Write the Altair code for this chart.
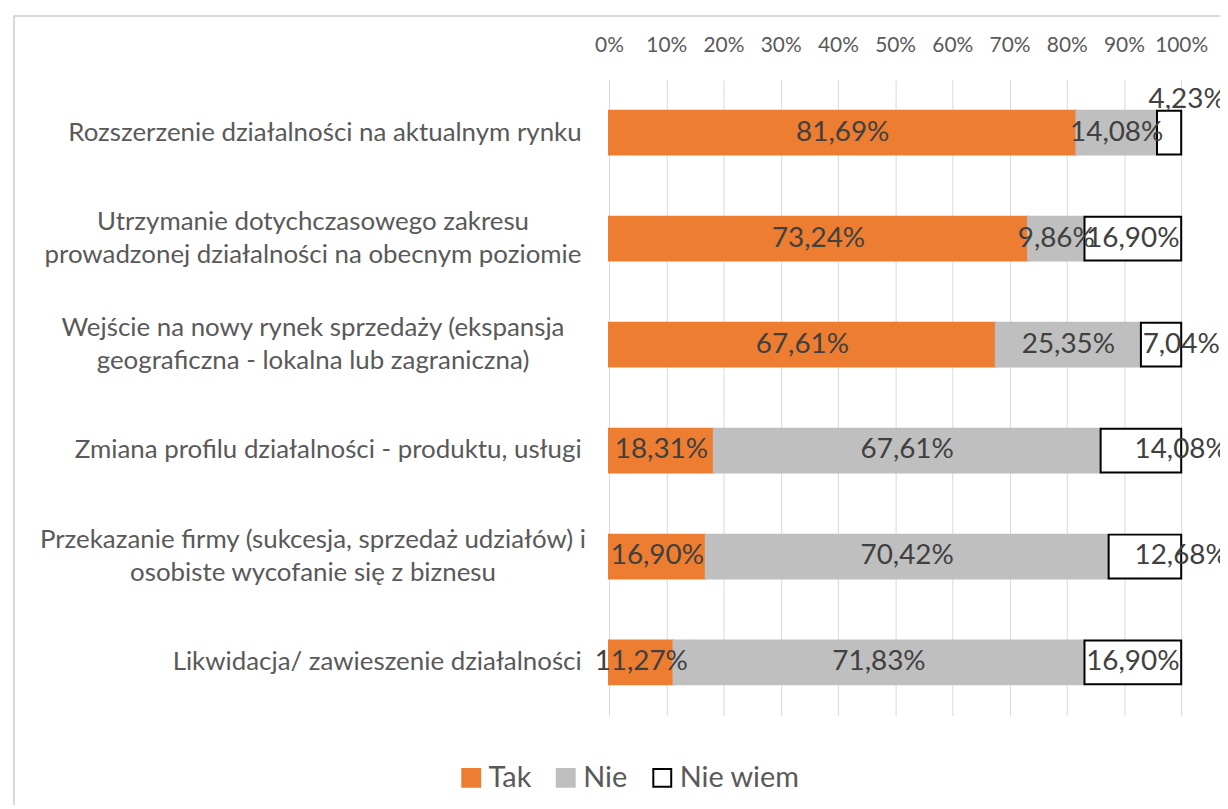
import altair as alt
import pandas as pd

categories = [
    "Rozszerzenie działalności na aktualnym rynku",
    "Utrzymanie dotychczasowego zakresu\nprowadzonej działalności na obecnym poziomie",
    "Wejście na nowy rynek  sprzedaży (ekspansja\ngeograficzna - lokalna lub zagraniczna)",
    "Zmiana profilu działalności -  produktu, usługi",
    "Przekazanie firmy (sukcesja, sprzedaż udziałów) i\nosobiste wycofanie się z biznesu",
    "Likwidacja/ zawieszenie działalności",
]
answers = ["Tak", "Nie", "Nie wiem"]
tak = [81.69, 73.24, 67.61, 18.31, 16.90, 11.27]
nie = [14.08, 9.86, 25.35, 67.61, 70.42, 71.83]
nie_wiem = [4.23, 16.90, 7.04, 14.08, 12.68, 16.90]
x_ticks = [0, 10, 20, 30, 40, 50, 60, 70, 80, 90, 100]

rows = []
for i, c in enumerate(categories):
    for j, (a, vals) in enumerate(zip(answers, [tak, nie, nie_wiem])):
        rows.append({"category": c, "answer": a, "order": j, "value": vals[i]})
df = pd.DataFrame(rows)

FONT = "Lato"
colors = ["#ED7D31", "#BFBFBF", "#FFFFFF"]
strokes = ["#ED7D31", "#BFBFBF", "#000000"]
MULTI = "indexof(datum.label, '\\n') >= 0"

base = alt.Chart(df).transform_stack(
    stack="value", groupby=["category"], as_=["x0", "x1"],
    sort=[alt.SortField("order", order="ascending")],
).transform_calculate(
    label="replace(format(datum.value, '.2f'), '.', ',') + '%'",
    lx="datum.answer == 'Nie wiem' && datum.value < 15 ? datum.x1 : (datum.x0 + datum.x1) / 2",
)

yenc = alt.Y(
    "category:N", sort=categories, title=None,
    scale=alt.Scale(paddingInner=0.587, paddingOuter=0.2935),
    axis=alt.Axis(
        ticks=False, domain=False, labelFont=FONT,
        labelFontSize=26, labelColor="#595959", labelLimit=0,
        labelExpr="split(datum.label, '\\n')", labelLineHeight=34,
        labelAlign={"condition": {"test": MULTI, "value": "center"}, "value": "right"},
        labelPadding={"condition": {"test": MULTI, "value": 298}, "value": 28},
        labelOffset={"condition": {"test": MULTI, "value": -17}, "value": 0},
    ),
)

bars = base.mark_bar(strokeWidth=2).encode(
    x=alt.X(
        "x0:Q", title=None,
        scale=alt.Scale(domain=[0, 100], nice=False),
        axis=alt.Axis(
            orient="top", values=x_ticks, labelExpr="datum.value + '%'",
            ticks=False, domain=False, labelFont=FONT, labelFontSize=21,
            labelColor="#595959", labelPadding=24, gridColor="#D9D9D9",
            gridWidth=1, labelOverlap=False, labelFlush=False,
        ),
    ),
    x2="x1:Q",
    y=yenc,
    fill=alt.Fill("answer:N", sort=answers, title=None,
                  scale=alt.Scale(domain=answers, range=colors)),
    stroke=alt.Stroke("answer:N", sort=answers, title=None,
                      scale=alt.Scale(domain=answers, range=strokes)),
)

text_in = base.transform_filter("datum.value >= 5").mark_text(
    font=FONT, fontSize=28, color="#404040", align="center", baseline="middle",
).encode(x="lx:Q", y=alt.Y("category:N", sort=categories), text="label:N")

text_above = base.transform_filter("datum.value < 5").mark_text(
    font=FONT, fontSize=28, color="#404040", align="center", baseline="middle",
    dy=-33, dx=6,
).encode(x="x1:Q", y=alt.Y("category:N", sort=categories), text="label:N")

frame = alt.Chart(pd.DataFrame({"f": [0]})).mark_rect(
    fill=None, stroke="#D9D9D9", strokeWidth=2
).encode(
    x=alt.value(-598), x2=alt.value(700), y=alt.value(-64), y2=alt.value(780)
)

chart = alt.layer(frame, bars, text_in, text_above).properties(
    width=575, height=639,
    autosize=alt.AutoSizeParams(type="none"),
    padding={"left": 604, "top": 70, "right": 39, "bottom": 88},
    background="white",
).configure_view(stroke=None).configure_legend(
    orient="none", legendX=-153, legendY=687, direction="horizontal",
    symbolType="square", symbolSize=324, symbolStrokeWidth=2,
    labelFont=FONT, labelFontSize=29, labelColor="#595959",
    labelOffset=3, columnPadding=20, titlePadding=0,
)

chart.save("out.html", embed_options={"renderer": "svg", "actions": False})
